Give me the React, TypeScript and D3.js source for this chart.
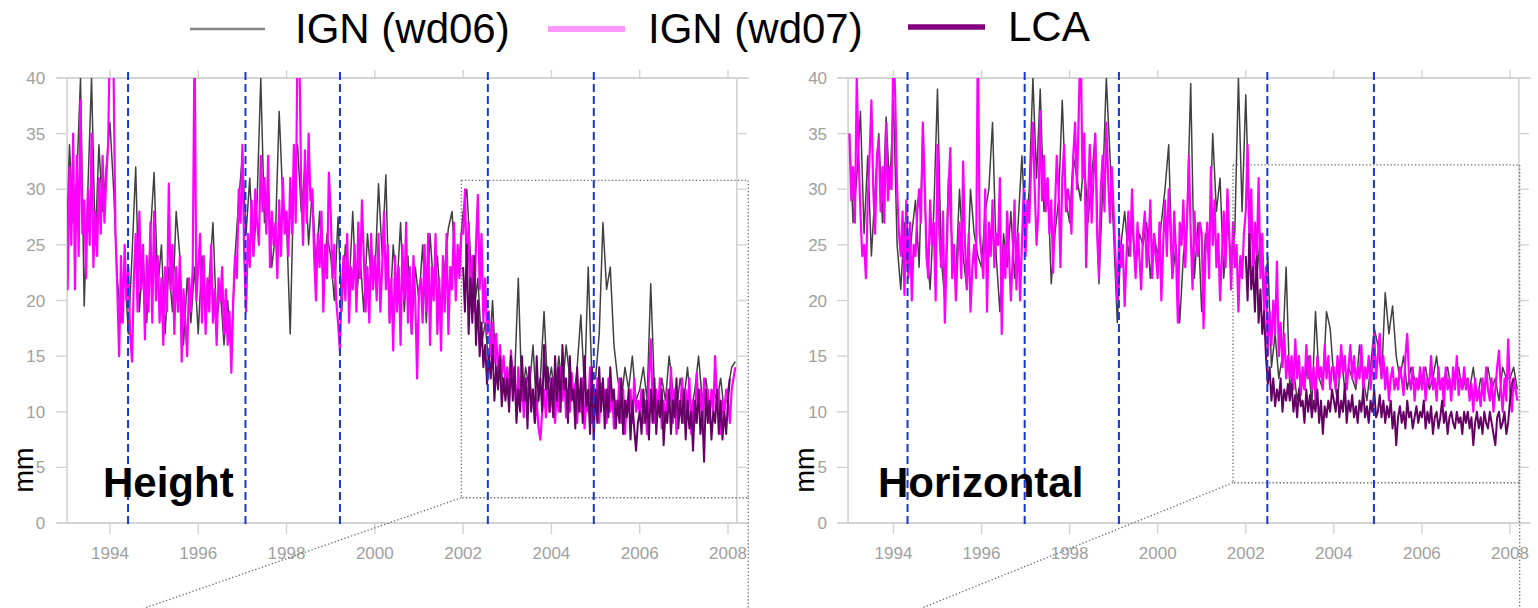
import React from "react";
import * as d3 from "d3";

// ---------- data (mm) ----------
const YEAR_START = 1993;
const LCA_START = 2002;
const FINE_PER_YEAR = 24; // IGN wd07 and LCA samples per year
const COARSE_PER_YEAR = 12; // IGN wd06 samples per year

const seriesNames = ["IGN (wd06)", "IGN (wd07)", "LCA"];
const panelTitles = ["Height", "Horizontal"];
const yTickValues = [0, 5, 10, 15, 20, 25, 30, 35, 40];
const xTickValues = [1994, 1996, 1998, 2000, 2002, 2004, 2006, 2008];

// event dates (blue dashed lines)
const heightBreaks = [1994.41, 1997.07, 1999.21, 2002.56, 2004.96];
const horizBreaks = [1994.32, 1996.98, 1999.12, 2002.49, 2004.91];

// zoom boxes [x0, x1, y0, y1] in data units, and connector end [year, mm]
const heightZoomBox = [2001.96, 2008.46, 2.27, 30.8];
const horizZoomBox = [2001.71, 2008.22, 3.62, 32.2];
const heightConnectorEnd = [1994.75, -7.7];
const horizConnectorEnd = [1994.61, -7.7];

const heightWd07 = [
  30, 21, 32, 25, 35, 21, 33, 24, 38, 26, 29, 22, 30, 25, 35, 23, 28, 24, 31, 26, 33, 27, 31, 34,
  44, 45, 40, 26, 21, 15, 24, 18, 25, 20, 23, 17, 14.5, 22, 26, 19, 28, 21, 25, 16.5, 24, 19, 27, 18,
  28, 20, 24, 18, 22, 16, 23, 19, 30.5, 21, 25, 17, 23, 19, 24, 14.5, 21, 18, 15, 22, 19, 23, 44, 20,
  23, 26, 18, 24, 17, 22, 19, 25, 18, 21, 16, 22, 20, 23, 17, 21, 16, 19, 13.5, 20, 24, 22, 30, 27,
  34, 24, 19, 26, 23, 29, 24, 30, 27, 25, 33, 28, 31, 26, 33, 23, 28, 25, 27, 22, 29, 24, 31, 26,
  28, 24, 31, 26, 34, 27, 44, 42, 30, 25, 33.5, 27, 35, 29, 30, 24, 20, 26, 23, 28, 19, 25, 22, 31.5,
  28, 22, 25, 20, 18, 15.5, 21, 24, 20, 26, 18, 23, 21, 25, 19, 27, 22, 29, 24, 19, 23, 18, 26, 21,
  24, 20, 26, 19, 23, 28, 21, 25, 18, 22, 15.5, 24, 19, 23, 16, 25, 20, 27, 18, 23, 17, 24, 20, 13,
  21, 22, 18, 25, 19, 26, 16, 23, 20, 26, 17, 22, 15.5, 24, 19, 26, 17, 23, 21, 27, 20, 25, 22, 26,
  26, 30, 22, 27, 20, 24, 19, 25, 29.5, 21, 26, 18, 22, 17, 19, 15, 18, 14.5, 17, 13, 16, 13.5, 15, 12,
  14, 11, 15.5, 12, 13, 10, 14, 11, 12.5, 9.5, 13, 10, 14, 11, 12, 9, 11, 8.5, 7.5, 10, 12, 9.5, 13, 10,
  11, 13, 9, 12, 10, 14, 11, 13, 9.5, 12, 10, 13.5, 11, 12.5, 9, 12, 10, 13, 8.5, 11, 10, 14, 9, 12,
  10, 13, 9, 12.5, 11, 12, 9, 13, 10, 12, 8.5, 11, 10, 13, 9, 12, 8, 11, 10, 12, 9, 13, 10, 11,
  10, 12, 9, 11, 8, 13, 16.5, 11, 9, 12, 10, 13, 8.5, 11, 9, 12, 10, 14, 9, 12, 8, 11, 10, 13,
  9, 12, 10, 13, 8, 11, 9, 13.5, 10, 12, 8.5, 13, 10, 12, 9, 12, 10, 15, 11, 12, 8, 11, 10, 12,
  11, 9, 12, 13, 14,
];

const heightWd06 = [
  23, 34, 27, 31, 40, 19.5, 30, 40, 25, 34, 28, 32,
  36, 30, 22, 18, 23, 17, 24, 32, 19, 24, 18, 26,
  31.5, 21, 25, 17, 23, 19, 28, 24, 16, 22, 18, 23,
  17, 24, 20, 22, 27, 18, 21, 16, 20, 15, 24, 29,
  33, 26, 31, 24, 29, 40, 27, 30, 23, 26, 37, 29,
  27, 17, 31, 34, 28, 32, 25, 30, 23, 28, 21, 26,
  24, 20, 27.5, 19, 25, 21, 28, 20, 24, 19, 26, 22,
  22, 30.5, 24, 31.3, 18, 25, 21, 27, 19, 24, 17, 23,
  20, 25, 18, 26, 21, 24, 19, 23, 26.5, 28, 22, 24,
  28, 30, 24, 19, 22, 16, 18, 14, 20, 13, 15, 12,
  12, 15, 13, 22, 11, 14, 12, 16, 10, 13, 19, 12,
  14, 11, 15, 12, 16, 13, 11, 14, 18.7, 12, 23, 13,
  13, 17, 27, 21, 23, 16, 13, 11, 14, 12, 15, 11,
  12, 14, 11, 21.5, 12, 10, 13, 11, 15, 12, 10, 13,
  11, 14, 10, 12, 15, 11, 13, 10, 12, 11, 13, 10,
  12, 14, 14.5,
];

const heightLca = [
  23, 19, 25, 17, 22, 18, 24, 16, 20, 15, 18, 14, 16, 12.5, 15, 13, 16, 11, 14, 12, 15, 10.5, 13, 11,
  13, 10, 15, 11, 14, 9, 12, 10, 15, 11, 13, 8.5, 14, 10, 12, 9, 15, 11, 13, 10, 16, 12, 14, 10,
  13, 9.5, 15, 11, 14, 10, 16, 12, 13, 9, 15, 11, 12, 8.5, 14, 10, 13, 9, 15, 10.5, 12, 8, 14, 7.5,
  12, 9, 14, 10, 13, 8.5, 12, 9.5, 14, 11, 12, 8.5, 11, 9, 13, 8, 11, 9.5, 12, 7.5, 11, 8.5, 6.5, 9,
  10, 8, 12, 9, 11, 7.5, 12, 9, 13, 8, 11, 9.5, 12, 7, 10, 9, 12, 8, 11, 9.5, 13, 8.5, 11, 9,
  12, 7.5, 11, 8.5, 10, 6.5, 11, 9, 12, 8, 10, 5.5, 12, 9, 11, 7.5, 10, 9, 12, 8, 11, 7.5, 10, 8,
  11, 13,
];

const horizWd07 = [
  35, 29, 32, 27, 40, 33, 28, 24, 25, 22, 29, 33, 38, 30, 26, 33, 34.5, 28, 32, 27, 36, 29, 32, 30,
  44, 38, 30, 26, 24, 28, 20.5, 29, 22, 27, 20, 25, 24, 28, 30, 27, 36, 31, 24, 22, 29, 25, 27, 20,
  34, 26, 23, 28, 18, 24, 30, 33.7, 22, 25, 20, 24, 27, 22, 32.5, 25, 21, 26, 19, 23, 25, 22, 44, 26,
  24, 22, 30, 19, 27, 24, 29, 23, 26, 25, 31, 17, 25, 22, 28, 24, 20, 24, 29, 21, 26, 20, 25, 30,
  24, 29, 27, 32, 36, 30, 25, 28, 37, 29, 33, 28, 31, 26, 29, 22.5, 28, 33, 30, 23, 31, 34, 28, 30,
  29, 26, 33, 36, 30, 37, 44, 31, 35, 23, 29, 34, 27, 31, 35, 26, 22, 30, 33, 28, 36, 31, 27, 32,
  28, 24, 20, 26, 23, 25, 19.5, 24, 28, 24, 30, 25, 22, 27, 24, 21, 26, 28, 23, 25, 29, 22, 26, 24,
  22, 27, 20, 25, 29, 24, 30, 26, 22, 28, 24, 18, 27, 25, 29, 23, 27, 33, 26, 21, 28, 25, 24, 27,
  26, 17.5, 24, 27, 22, 32, 25, 29, 23, 26, 20, 24, 28, 23, 30, 26, 21, 27, 23, 25, 19, 24, 22, 26,
  28, 34, 25, 30, 22, 27, 24, 31, 22, 26, 19, 23, 15, 19, 16, 20, 17, 23.5, 15, 18, 14, 17, 13, 15,
  13, 15, 12, 16.5, 13, 15, 11.5, 14, 12, 16, 13, 15, 12, 14, 11, 15, 13, 14, 12, 16, 13, 15, 12, 14,
  14, 12, 15, 13, 16, 13.5, 15, 12, 14, 16, 13, 15, 12.5, 14, 13, 16, 12, 14, 13, 15, 12, 14, 17, 13,
  15, 17, 13, 15, 12, 14, 11, 13, 14, 12, 13, 12, 14, 13, 11.5, 15, 17, 13, 12, 14, 11, 13, 12, 14,
  12, 14, 11, 13, 12.5, 15, 12, 13, 11, 14, 12, 13, 10.5, 14, 12, 13, 11, 14, 12, 15, 11.5, 13, 12, 14,
  12, 13, 11, 12.5, 10, 13, 11, 12, 10.5, 13, 11, 14, 12, 11, 13, 10, 12, 14, 15.5, 12, 10, 13, 11, 16.5,
  12, 10, 13, 12, 11,
];

const horizWd06 = [
  35, 27, 31, 37, 26, 33, 24, 30, 35, 27, 36.5, 30,
  38, 25, 21, 27, 22, 26, 29, 23, 35, 25, 21, 28,
  39, 24, 20, 31, 25, 22, 30, 24, 21, 30, 26, 24,
  23, 28, 30, 36, 24, 19, 26, 23, 28, 22, 27, 33,
  26, 30, 40, 31, 39, 28, 31, 21.5, 26, 29, 38, 29,
  27, 33, 31, 29, 33, 27, 31, 35, 21.5, 30, 40, 33,
  26, 18, 25, 28, 24, 27, 23, 26, 25, 27, 22, 26,
  24, 27, 30, 34, 22, 25, 18, 24, 27, 39.5, 22, 27,
  19, 26, 24, 35, 28, 31, 22, 27, 24, 26, 40, 28,
  38.5, 27, 25, 22, 26, 19, 24, 14, 17, 13, 15, 23,
  12, 14, 11, 13, 12, 15, 10.5, 19, 13, 12, 19, 17.5,
  13, 11, 15, 12, 14, 13, 12, 16, 13, 11, 14, 17.5,
  16, 13, 20.7, 17, 19.5, 15, 13, 15, 12, 14, 13, 12,
  13, 14, 12, 13, 15, 12, 13, 14, 12, 13, 14, 12,
  13, 12, 14, 11, 13, 12, 14, 12, 13, 11, 14, 13,
  13, 14, 12,
];

const horizLca = [
  24, 20, 26, 21, 23, 19, 24, 18, 21, 17, 19, 15, 12.5, 14, 11, 13, 10.5, 12, 11, 13, 10, 12, 11, 12.5,
  11, 12.5, 10, 11.5, 9.5, 12, 10.5, 11, 9, 12, 10, 11.5, 9.5, 11, 10, 12, 9, 11, 8, 10.5, 9.5, 11, 10, 12,
  11, 10, 12, 9.5, 11, 10, 12.5, 9, 11, 10, 11.5, 9.5, 10.5, 9, 11, 10, 12, 9.5, 10.5, 9, 11, 10, 12, 9.5,
  10, 11.5, 9.5, 11, 9, 10.5, 9.5, 11, 8.5, 10, 7, 9.5, 10.5, 9, 10, 8.5, 11, 9.5, 10, 8.5, 9.5, 10.5, 9, 10,
  9.5, 11, 8.5, 10, 9, 10.5, 8, 9.5, 10, 8.5, 9.5, 11, 9, 10, 8, 9.5, 10, 9, 8.5, 10, 9, 9.5, 8, 10,
  9, 10, 8.5, 9.5, 7, 9, 10, 8.5, 9.5, 8, 10, 9, 8.5, 10, 9, 8, 7, 9.5, 10, 8.5, 9, 10, 8, 9,
  11, 12.5, 13,
];

// ---------- styles ----------
const COLORS = { wd06: "#404040", wd07: "#ff00ff", lca: "#650065" };
const LEGEND_COLORS = ["#858585", "#ff99ff", "#800080"];
const AXIS_COLOR = "#d2d2d2";
const TICK_TEXT = "#a0a0a0";
const FONT = "'Liberation Sans', Arial, Helvetica, sans-serif";

type PanelProps = {
  id: string;
  title: string;
  xRange: [number, number];
  frameDomain: [number, number];
  wd06: number[];
  wd07: number[];
  lca: number[];
  breaks: number[];
  zoomBox: number[];
  connectorEnd: number[];
  titleX: number;
  mmX: number;
  labelOffset: number;
};

function Panel(p: PanelProps) {
  const x = d3.scaleLinear().domain([1993, 2008]).range(p.xRange);
  const y = d3.scaleLinear().domain([0, 40]).range([523, 78]);
  const left = x(p.frameDomain[0]);
  const right = x(p.frameDomain[1]);
  const top = y(40);
  const bottom = y(0);

  const toPts = (vals: number[], start: number, perYear: number) =>
    vals.map((v, i) => [start + i / perYear, v] as [number, number]);
  const line = d3
    .line<[number, number]>()
    .x((d) => x(d[0]))
    .y((d) => y(d[1]));

  const [bx0, bx1, by0, by1] = p.zoomBox;
  const [cx, cy] = p.connectorEnd;

  return (
    <g>
      <defs>
        <clipPath id={p.id}>
          <rect x={left} y={top} width={right - left} height={bottom - top} />
        </clipPath>
      </defs>
      {/* frame */}
      <rect x={left} y={top} width={right - left} height={bottom - top} fill="none" stroke={AXIS_COLOR} strokeWidth={1.6} />
      <line x1={left - 10} x2={right + 12} y1={bottom} y2={bottom} stroke={AXIS_COLOR} strokeWidth={1.6} />
      <line x1={left - 10} x2={right + 12} y1={top} y2={top} stroke={AXIS_COLOR} strokeWidth={1.6} />
      {/* y ticks */}
      {yTickValues.map((v) => (
        <g key={"y" + v}>
          <line x1={left - 11} x2={left - 1} y1={y(v)} y2={y(v)} stroke={AXIS_COLOR} strokeWidth={1.4} />
          <line x1={right} x2={right + 10} y1={y(v)} y2={y(v)} stroke={AXIS_COLOR} strokeWidth={1.4} />
          <text x={left - p.labelOffset} y={y(v)} dy="0.36em" textAnchor="end" fontSize={17} fill={TICK_TEXT} fontFamily={FONT}>
            {v}
          </text>
        </g>
      ))}
      {/* x ticks */}
      {xTickValues.map((v) => (
        <g key={"x" + v}>
          <line x1={x(v)} x2={x(v)} y1={bottom} y2={bottom + 11} stroke={AXIS_COLOR} strokeWidth={1.4} />
          <line x1={x(v)} x2={x(v)} y1={top} y2={top - 8} stroke={AXIS_COLOR} strokeWidth={1.4} />
          <text x={x(v)} y={bottom + 36} textAnchor="middle" fontSize={17} fill={TICK_TEXT} fontFamily={FONT}>
            {v}
          </text>
        </g>
      ))}
      {/* series */}
      <g clipPath={`url(#${p.id})`} fill="none" strokeLinejoin="round">
        <path d={line(toPts(p.wd06, YEAR_START, COARSE_PER_YEAR)) || ""} stroke={COLORS.wd06} strokeWidth={1.5} />
        <path d={line(toPts(p.wd07, YEAR_START, FINE_PER_YEAR)) || ""} stroke={COLORS.wd07} strokeWidth={2.2} />
        <path d={line(toPts(p.lca, LCA_START, FINE_PER_YEAR)) || ""} stroke={COLORS.lca} strokeWidth={2} />
      </g>
      {/* zoom box */}
      <g fill="none" stroke="#666" strokeWidth={1.3} strokeDasharray="1.3 2.2">
        <rect x={x(bx0)} y={y(by1)} width={x(bx1) - x(bx0)} height={y(by0) - y(by1)} />
        <line x1={x(bx0)} y1={y(by0)} x2={x(cx)} y2={y(cy)} />
        <line x1={x(bx1)} y1={y(by0)} x2={x(bx1)} y2={y(cy)} />
      </g>
      {/* event lines */}
      {p.breaks.map((b) => (
        <line key={"b" + b} x1={x(b)} x2={x(b)} y1={top - 6} y2={bottom + 3} stroke="#1238d8" strokeWidth={2} strokeDasharray="8 4" />
      ))}
      {/* labels */}
      <text x={p.titleX} y={497} fontSize={42} fontWeight="bold" fontFamily={FONT} fill="#000">
        {p.title}
      </text>
      <text transform={`translate(${p.mmX},470) rotate(-90)`} textAnchor="middle" dy="0.35em" fontSize={27} fontFamily={FONT} fill="#000">
        mm
      </text>
    </g>
  );
}

export default function App() {
  const legend = [
    { x1: 190, x2: 265, ly: 29, w: 2.5, tx: 295, ty: 43 },
    { x1: 548, x2: 625, ly: 29, w: 6, tx: 648, ty: 43 },
    { x1: 908, x2: 985, ly: 27, w: 5.5, tx: 1008, ty: 41 },
  ];
  return (
    <div>
      <style>{`body{margin:0;background:#fff}`}</style>
      <svg width={1538} height={608} style={{ display: "block", background: "#fff" }}>
        {seriesNames.map((name, i) => (
          <g key={name}>
            <line x1={legend[i].x1} x2={legend[i].x2} y1={legend[i].ly} y2={legend[i].ly} stroke={LEGEND_COLORS[i]} strokeWidth={legend[i].w} />
            <text x={legend[i].tx} y={legend[i].ty} fontSize={42} fontFamily={FONT} fill="#000">
              {name}
            </text>
          </g>
        ))}
        <Panel
          id="clipH"
          title={panelTitles[0]}
          xRange={[65.8, 728]}
          frameDomain={[1993.03, 2008.2]}
          wd06={heightWd06}
          wd07={heightWd07}
          lca={heightLca}
          breaks={heightBreaks}
          zoomBox={heightZoomBox}
          connectorEnd={heightConnectorEnd}
          titleX={103}
          mmX={24}
          labelOffset={22}
        />
        <Panel
          id="clipV"
          title={panelTitles[1]}
          xRange={[849.4, 1510]}
          frameDomain={[1992.97, 2008.2]}
          wd06={horizWd06}
          wd07={horizWd07}
          lca={horizLca}
          breaks={horizBreaks}
          zoomBox={horizZoomBox}
          connectorEnd={horizConnectorEnd}
          titleX={878}
          mmX={805}
          labelOffset={21}
        />
      </svg>
    </div>
  );
}
